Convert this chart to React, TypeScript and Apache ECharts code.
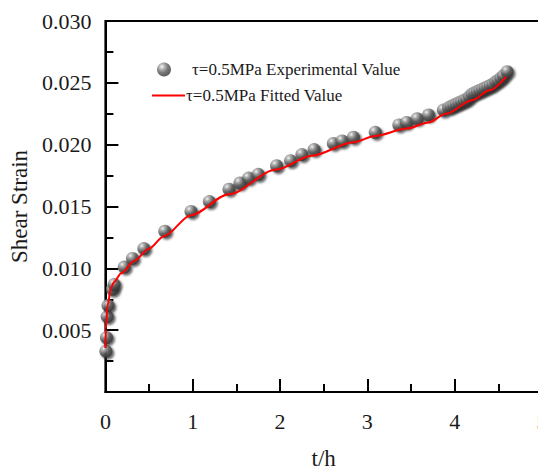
import React, { useEffect, useRef } from "react";
import * as echarts from "echarts";

const expTime = [
  0.005, 0.012, 0.02, 0.03, 0.08, 0.1, 0.215, 0.31, 0.44, 0.68, 0.98, 1.19,
  1.415, 1.54, 1.64, 1.75, 1.96, 2.12, 2.25, 2.39, 2.61, 2.71, 2.84, 3.09,
  3.36, 3.45, 3.57, 3.7, 3.87, 3.93, 3.96, 3.99, 4.02, 4.05, 4.08, 4.11, 4.14,
  4.17, 4.2, 4.23, 4.26, 4.29, 4.32, 4.35, 4.38, 4.41, 4.44, 4.47, 4.5, 4.53,
  4.56, 4.6,
];
const expStrain = [
  0.0033, 0.0044, 0.0061, 0.007, 0.0083, 0.0087, 0.0101, 0.0108, 0.0116,
  0.013, 0.0146, 0.0154, 0.0164, 0.0169, 0.0173, 0.0176, 0.0183, 0.0187,
  0.0192, 0.0196, 0.0201, 0.0203, 0.0206, 0.021, 0.0216, 0.0218, 0.0221,
  0.0224, 0.0228, 0.023, 0.0231, 0.0232, 0.0233, 0.0234, 0.0235, 0.0236,
  0.0237, 0.0239, 0.0241, 0.0242, 0.0243, 0.0244, 0.0245, 0.0246, 0.0247,
  0.0248, 0.0249, 0.0251, 0.0252, 0.0254, 0.0256, 0.0259,
];

const fitTime = [
  0, 0.004, 0.025, 0.063, 0.1, 0.18, 0.33, 0.5, 0.67, 0.98, 1.415, 1.96, 2.36,
  2.84, 3.09, 3.45, 3.7, 3.9, 4.2, 4.4, 4.59,
];
const fitStrain = [
  0.00355, 0.0051, 0.007, 0.0084, 0.0089, 0.0096, 0.0106, 0.0116, 0.0126,
  0.0143, 0.016, 0.018, 0.0191, 0.0202, 0.0207, 0.0213, 0.0218, 0.0225,
  0.0236, 0.0244, 0.0255,
];

const seriesNames = [
  "\u03c4=0.5MPa Experimental Value",
  "\u03c4=0.5MPa Fitted Value",
];
const axisNames = ["t/h", "Shear Strain"];

const FONT = "'Liberation Serif', 'Times New Roman', serif";

export default function App() {
  const ref = useRef<HTMLDivElement>(null);
  useEffect(() => {
    if (!ref.current) return;
    const chart = echarts.init(ref.current, undefined, { renderer: "svg" });
    const sphere = new echarts.graphic.RadialGradient(0.35, 0.3, 0.75, [
      { offset: 0, color: "#ffffff" },
      { offset: 0.18, color: "#b8b8b8" },
      { offset: 0.55, color: "#5a5a5a" },
      { offset: 1, color: "#2e2e2e" },
    ]);
    const axisCommon = {
      axisLine: { show: true, lineStyle: { color: "#000", width: 2 } },
      axisTick: { show: true, inside: true, length: 13, lineStyle: { color: "#000", width: 2 } },
      minorTick: { show: true, splitNumber: 2, length: 8, lineStyle: { color: "#000", width: 2 } },
      splitLine: { show: false },
      minorSplitLine: { show: false },
      axisLabel: { color: "#1a1a1a", fontFamily: FONT, fontSize: 22, margin: 18 },
      nameTextStyle: { color: "#1a1a1a", fontFamily: FONT, fontSize: 23 },
    };
    chart.setOption({
      animation: false,
      backgroundColor: "#fff",
      grid: {
        left: 104,
        top: 21,
        width: 438,
        height: 383,
        show: true,
        borderColor: "#000",
        borderWidth: 2,
        backgroundColor: "transparent",
      },
      legend: [
        {
          data: [seriesNames[0]],
          left: 157,
          top: 61,
          padding: 0,
          itemWidth: 14,
          itemHeight: 14,
          textStyle: { color: "#1a1a1a", fontFamily: FONT, fontSize: 17, padding: [0, 0, 0, 16] },
        },
        {
          data: [{ name: seriesNames[1], icon: "rect" }],
          left: 152,
          top: 87,
          padding: 0,
          itemWidth: 33,
          itemHeight: 2,
          textStyle: { color: "#1a1a1a", fontFamily: FONT, fontSize: 17, padding: [0, 0, 0, -4] },
        },
      ],
      xAxis: {
        type: "value",
        min: 0,
        max: 5,
        interval: 1,
        name: axisNames[0],
        nameLocation: "middle",
        nameGap: 55,
        ...axisCommon,
      },
      yAxis: {
        type: "value",
        min: 0,
        max: 0.03,
        interval: 0.005,
        name: axisNames[1],
        nameLocation: "middle",
        nameGap: 72,
        ...axisCommon,
        axisLabel: {
          ...axisCommon.axisLabel,
          margin: 14,
          formatter: (v: number) => (v === 0 ? "" : v.toFixed(3)),
        },
      },
      series: [
        {
          name: seriesNames[0],
          type: "scatter",
          symbol: "circle",
          symbolSize: 13,
          data: expTime.map((t, i) => [t, expStrain[i]]),
          itemStyle: {
            color: sphere,
            shadowBlur: 2,
            shadowOffsetX: 2,
            shadowOffsetY: 2,
            shadowColor: "rgba(50,50,50,0.9)",
          },
          z: 2,
        },
        {
          name: seriesNames[1],
          type: "line",
          data: fitTime.map((t, i) => [t, fitStrain[i]]),
          showSymbol: false,
          symbol: "none",
          smooth: 0.3,
          smoothMonotone: "x",
          lineStyle: { color: "#ff0000", width: 2 },
          itemStyle: { color: "#ff0000" },
          z: 3,
        },
      ],
    });
    return () => chart.dispose();
  }, []);
  return (
    <div style={{ position: "fixed", left: 0, top: 0, width: 538, height: 475, overflow: "hidden", background: "#fff" }}>
      <div ref={ref} style={{ width: 560, height: 475 }} />
    </div>
  );
}
